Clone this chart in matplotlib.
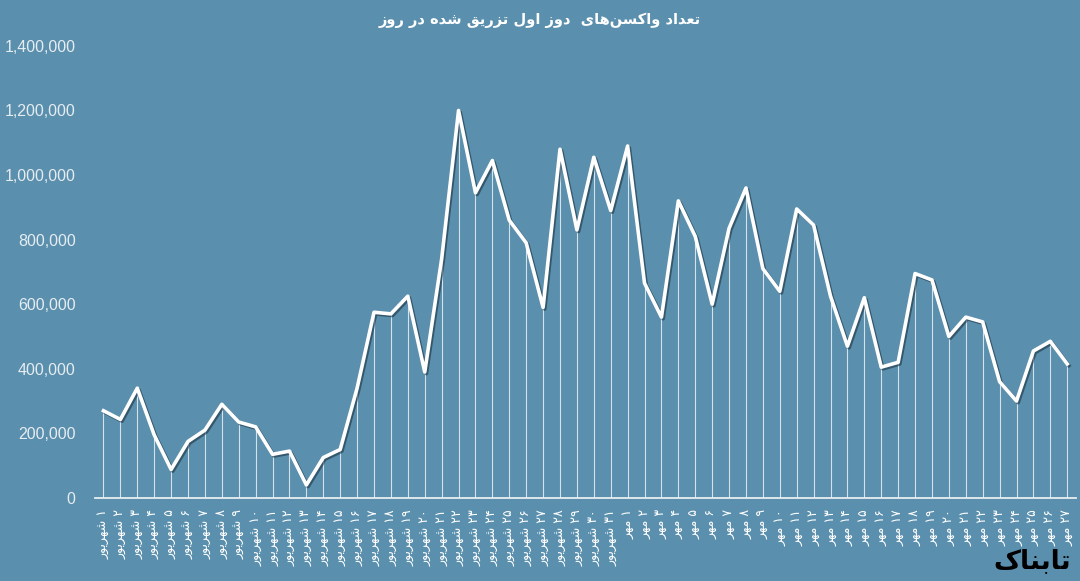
import matplotlib
matplotlib.use("Agg")
import matplotlib.pyplot as plt
import matplotlib.patheffects as pe
from matplotlib.ticker import FuncFormatter

# داده ها: دوز اول روزانه (شهریور ۱ تا ۳۱ و مهر ۱ تا ۲۷)
shahrivar_values = [270000, 243000, 340000, 195000, 88000, 175000, 210000, 290000, 235000, 220000,
                    135000, 145000, 40000, 125000, 150000, 340000, 575000, 570000, 625000, 390000,
                    740000, 1200000, 945000, 1045000, 860000, 790000, 590000, 1080000, 830000, 1055000,
                    890000]
mehr_values = [1090000, 665000, 560000, 920000, 810000, 600000, 835000, 960000, 710000, 640000,
               895000, 845000, 625000, 470000, 620000, 405000, 420000, 695000, 675000, 500000,
               560000, 545000, 360000, 300000, 455000, 485000, 415000]
month_names = ["شهریور", "مهر"]
title_text = "تعداد واکسن\u200cهای  دوز اول تزریق شده در روز"

# شکل دهی حروف فارسی (matplotlib خودش این کار را نمی کند)
FORMS = {
    "ا": ("\uFE8D", "\uFE8E", None, None),
    "ب": ("\uFE8F", "\uFE90", "\uFE91", "\uFE92"),
    "ت": ("\uFE95", "\uFE96", "\uFE97", "\uFE98"),
    "د": ("\uFEA9", "\uFEAA", None, None),
    "ر": ("\uFEAD", "\uFEAE", None, None),
    "ز": ("\uFEAF", "\uFEB0", None, None),
    "س": ("\uFEB1", "\uFEB2", "\uFEB3", "\uFEB4"),
    "ش": ("\uFEB5", "\uFEB6", "\uFEB7", "\uFEB8"),
    "ع": ("\uFEC9", "\uFECA", "\uFECB", "\uFECC"),
    "ق": ("\uFED5", "\uFED6", "\uFED7", "\uFED8"),
    "ک": ("\uFB8E", "\uFB8F", "\uFB90", "\uFB91"),
    "ل": ("\uFEDD", "\uFEDE", "\uFEDF", "\uFEE0"),
    "م": ("\uFEE1", "\uFEE2", "\uFEE3", "\uFEE4"),
    "ن": ("\uFEE5", "\uFEE6", "\uFEE7", "\uFEE8"),
    "ه": ("\uFEE9", "\uFEEA", "\uFEEB", "\uFEEC"),
    "و": ("\uFEED", "\uFEEE", None, None),
    "ی": ("\uFBFC", "\uFBFD", "\uFBFE", "\uFBFF"),
}


def shape(text):
    out = []
    for i, ch in enumerate(text):
        if ch not in FORMS:
            if ch != "\u200c":
                out.append(ch)
            continue
        prev = text[i - 1] if i > 0 else ""
        nxt = text[i + 1] if i + 1 < len(text) else ""
        join_prev = prev in FORMS and FORMS[prev][2] is not None
        join_next = FORMS[ch][2] is not None and nxt in FORMS
        iso, fin, ini, med = FORMS[ch]
        if join_prev and join_next:
            out.append(med)
        elif join_prev:
            out.append(fin)
        elif join_next:
            out.append(ini)
        else:
            out.append(iso)
    return "".join(out)[::-1]


def fa_digits(n):
    return "".join(chr(0x06F0 + int(d)) for d in str(n))


values = shahrivar_values + mehr_values
labels = [shape(month_names[0]) + " " + fa_digits(d) for d in range(1, len(shahrivar_values) + 1)]
labels += [shape(month_names[1]) + " " + fa_digits(d) for d in range(1, len(mehr_values) + 1)]
x = list(range(len(values)))

bg = "#5a8fad"
fig = plt.figure(figsize=(10.8, 5.81), dpi=100, facecolor=bg)
ax = fig.add_axes([0.088, 0.143, 0.908, 0.778], facecolor=bg)

ax.vlines(x, 0, values, color="white", lw=0.8, alpha=0.75)
ax.plot(x, values, color="white", lw=2.6, solid_joinstyle="round",
        path_effects=[pe.SimpleLineShadow(offset=(1.2, -1.2), shadow_color="#1c3342", alpha=0.6),
                      pe.Normal()])

ax.set_xlim(-0.5, len(values) - 0.5)
ax.set_ylim(0, 1400000)
ax.set_yticks(range(0, 1400001, 200000))
ax.yaxis.set_major_formatter(FuncFormatter(lambda v, p: f"{int(v):,}"))
ax.tick_params(axis="y", length=0, pad=14, labelcolor="#e6edf2", labelsize=11.5)
for t in ax.get_yticklabels():
    t.set_family("Liberation Sans")

ax.set_xticks(x)
ax.set_xticklabels(labels, rotation=90, va="top", ha="center", fontsize=9,
                   color="white", family="DejaVu Sans")
ax.tick_params(axis="x", length=0, pad=8)

for s in ["left", "right", "top"]:
    ax.spines[s].set_visible(False)
ax.spines["bottom"].set_color("#e8eef2")
ax.spines["bottom"].set_linewidth(1.3)

fig.text(0.5, 0.965, shape(title_text), color="white", ha="center", va="center",
         fontsize=10.5, fontweight="bold", family="DejaVu Sans")

fig.text(0.992, 0.035, shape("تابناک"), color="black", ha="right", va="center",
         fontsize=19, fontweight="bold", family="DejaVu Sans")

fig.savefig("out.png", dpi=100, facecolor=bg)
